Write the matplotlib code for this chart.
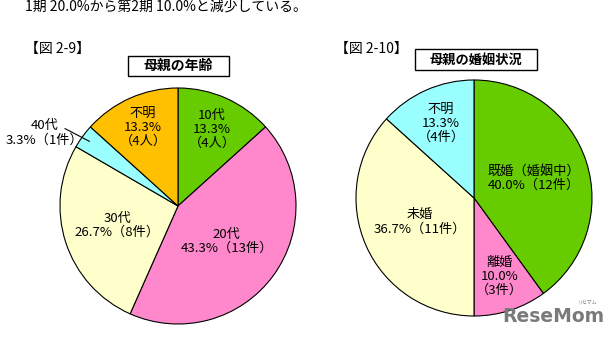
import numpy as np
import matplotlib.pyplot as plt
from matplotlib.patches import Rectangle

plt.rcParams['font.family'] = ['Noto Sans CJK JP', 'DejaVu Sans']

# 図2-9 母親の年齢
age_labels = ['10代', '20代', '30代', '40代', '不明']
age_pct = [13.3, 43.3, 26.7, 3.3, 13.3]
age_counts = ['（4人）', '（13件）', '（8件）', '（1件）', '（4人）']
age_colors = ['#66CC00', '#FF88CC', '#FFFFCC', '#99FFFF', '#FFC000']

# 図2-10 母親の婚姻状況
mar_labels = ['既婚（婚姻中）', '離婚', '未婚', '不明']
mar_pct = [40.0, 10.0, 36.7, 13.3]
mar_counts = ['（12件）', '（3件）', '（11件）', '（4件）']
mar_colors = ['#66CC00', '#FF88CC', '#FFFFCC', '#99FFFF']

W, H = 615, 337
fig = plt.figure(figsize=(W / 100, H / 100), dpi=100)


def px_axes(cx, cy, r):
    # axes whose [-1, 1] box is the pie circle, given in pixels from the top-left
    return fig.add_axes([(cx - r) / W, (H - cy - r) / H, 2 * r / W, 2 * r / H])


def draw_pie(ax, values, colors):
    wedges, _ = ax.pie(values, colors=colors, startangle=90, counterclock=False,
                       radius=1, wedgeprops=dict(edgecolor='black', linewidth=0.8))
    ax.set_xlim(-1, 1)
    ax.set_ylim(-1, 1)
    ax.set_aspect('equal')
    ax.axis('off')
    mids = []
    for w in wedges:
        mids.append(np.deg2rad((w.theta1 + w.theta2) / 2))
    return mids


def px_text(x, y, s, **kw):
    fig.text(x / W, 1 - y / H, s, **kw)


def px_box(cx, cy, w, h, s, size):
    fig.add_artist(Rectangle(((cx - w / 2) / W, 1 - (cy + h / 2) / H), w / W, h / H,
                             transform=fig.transFigure, facecolor='white',
                             edgecolor='black', linewidth=1.0))
    px_text(cx, cy, s, ha='center', va='center', fontsize=size, fontweight='bold')


lab_kw = dict(ha='center', va='center', fontsize=9.5, linespacing=1.1)

# left pie
ax1 = px_axes(178, 206, 118)
mids = draw_pie(ax1, age_pct, age_colors)
age_dist = [0.71, 0.51, 0.54, None, 0.73]
for i, m in enumerate(mids):
    txt = age_labels[i] + '\n' + f'{age_pct[i]:.1f}%'
    if age_dist[i] is None:
        ax1.plot([1.16 * np.cos(m + 0.03), 0.93 * np.cos(m)],
                 [1.16 * np.sin(m + 0.03), 0.93 * np.sin(m)],
                 color='black', linewidth=0.8, clip_on=False)
        ax1.text(-1.13, 0.62, txt + age_counts[i], clip_on=False, **lab_kw)
        continue
    if i in (0, 4):
        txt = txt + '\n' + age_counts[i]
    else:
        txt = txt + age_counts[i]
    d = age_dist[i]
    ax1.text(d * np.cos(m), d * np.sin(m), txt, **lab_kw)

# right pie
ax2 = px_axes(474, 198, 118)
mids = draw_pie(ax2, mar_pct, mar_colors)
mar_dist = [0.53, 0.70, 0.50, 0.69]
for i, m in enumerate(mids):
    txt = mar_labels[i] + '\n' + f'{mar_pct[i]:.1f}%'
    if i in (1, 3):
        txt = txt + '\n' + mar_counts[i]
    else:
        txt = txt + mar_counts[i]
    d = mar_dist[i]
    ax2.text(d * np.cos(m), d * np.sin(m), txt, **lab_kw)

# headings
px_text(25, 11, '1期 20.0%から第2期 10.0%と減少している。', fontsize=10, va='baseline')
px_text(25, 49, '【図 2-9】', fontsize=10, va='center')
px_text(335, 49, '【図 2-10】', fontsize=10, va='center')
px_box(178.5, 66, 101, 20, '母親の年齢', 10)
px_box(476, 59.5, 122, 21, '母親の婚姻状況', 9.5)

# site mark
px_text(553, 316, 'ReseMom', fontsize=13.5, fontweight='bold', color='#7a7a7a',
        ha='center', va='center', family='DejaVu Sans')
px_text(588, 302, 'リセマム', fontsize=3.5, color='#7a7a7a', ha='center', va='center')

fig.savefig('out.png', dpi=100)
